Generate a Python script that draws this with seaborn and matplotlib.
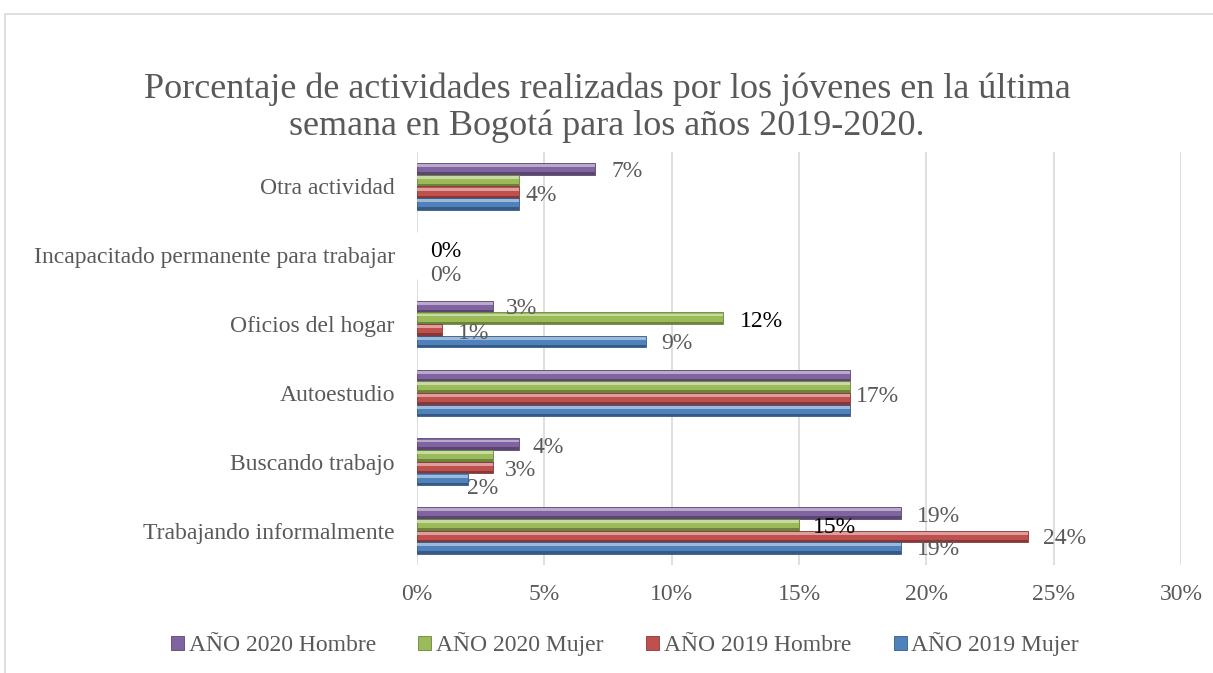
import numpy as np
import pandas as pd
import seaborn as sns
import matplotlib.pyplot as plt
import matplotlib.colors as mcolors
from matplotlib.patches import Rectangle

# categories, top to bottom as shown in the chart
categorias = ["Otra actividad", "Incapacitado permanente para trabajar", "Oficios del hogar",
              "Autoestudio", "Buscando trabajo", "Trabajando informalmente"]
series = ["AÑO 2020 Hombre", "AÑO 2020 Mujer", "AÑO 2019 Hombre", "AÑO 2019 Mujer"]
colores = ["#8064A2", "#9BBB59", "#C0504D", "#4F81BD"]

hombre_2020 = [7, 0, 3, 17, 4, 19]
mujer_2020 = [4, 0, 12, 17, 3, 15]
hombre_2019 = [4, 0, 1, 17, 3, 24]
mujer_2019 = [4, 0, 9, 17, 2, 19]

# data labels that Excel kept: (category, series, dx, dy, color)
etiquetas = [
    (0, 0, 1.24, -0.22, "#595959"), (0, 2, 0.87, 0.13, "#595959"),
    (1, 0, 1.14, -0.05, "black"), (1, 3, 1.14, 0.30, "#595959"),
    (2, 0, 1.12, -0.22, "#595959"), (2, 1, 1.51, -0.04, "black"),
    (2, 2, 1.24, 0.13, "#595959"), (2, 3, 1.21, 0.28, "#595959"),
    (3, 2, 1.10, 0.05, "#595959"),
    (4, 0, 1.14, -0.20, "#595959"), (4, 2, 1.08, 0.13, "#595959"), (4, 3, 0.59, 0.39, "#595959"),
    (5, 0, 1.46, -0.21, "#595959"), (5, 1, 1.41, -0.04, "black"),
    (5, 2, 1.44, 0.12, "#595959"), (5, 3, 1.46, 0.28, "#595959"),
]

valores = [hombre_2020, mujer_2020, hombre_2019, mujer_2019]
df = pd.DataFrame({
    "categoria": categorias * len(series),
    "serie": [s for s in series for _ in categorias],
    "valor": [v for vals in valores for v in vals],
})

sns.set_style("white")
plt.rcParams["font.family"] = ["Liberation Serif", "DejaVu Serif"]
gris = "#595959"
fs = 17

fig = plt.figure(figsize=(12.13, 6.73), dpi=100)
ax = fig.add_axes([417 / 1213, 1 - 565 / 673, (1181 - 417) / 1213, (565 - 152) / 673])

sns.barplot(data=df, y="categoria", x="valor", hue="serie", order=categorias, hue_order=series,
            palette=colores, orient="h", width=0.68, saturation=1, ax=ax, legend=False)

# bevel look of the Excel bars
for patch in list(ax.patches):
    w = patch.get_width()
    if w <= 0:
        continue
    x, y, h = patch.get_x(), patch.get_y(), patch.get_height()
    c = np.array(mcolors.to_rgb(patch.get_facecolor()))
    claro = 1 - (1 - c) * 0.55
    oscuro = c * 0.7
    patch.set_edgecolor(oscuro)
    patch.set_linewidth(0.6)
    ax.add_patch(Rectangle((x, y + h * 0.1), w, h * 0.25, facecolor=claro, edgecolor="none", zorder=patch.get_zorder() + 0.1))
    ax.add_patch(Rectangle((x, y + h * 0.78), w, h * 0.22, facecolor=oscuro, edgecolor="none", zorder=patch.get_zorder() + 0.1))

for ci, si, dx, dy, col in etiquetas:
    v = valores[si][ci]
    ax.text(v + dx, ci + dy, f"{v}%", ha="center", va="center", fontsize=fs, color=col)

ax.set_xlim(0, 30)
ax.set_xticks(range(0, 31, 5))
ax.set_xticklabels([f"{t}%" for t in range(0, 31, 5)], fontsize=fs, color=gris)
ax.tick_params(axis="y", labelsize=fs, labelcolor=gris, length=0, pad=16)
ax.tick_params(axis="x", length=0, pad=14)
ax.set_xlabel("")
ax.set_ylabel("")
ax.grid(axis="x", color="#D9D9D9", linewidth=1.2)
ax.set_axisbelow(True)
for sp in ax.spines.values():
    sp.set_visible(False)

fig.text(607 / 1213, 1 - 108 / 673, "Porcentaje de actividades realizadas por los jóvenes en la última\nsemana en Bogotá para los años 2019-2020.",
         ha="center", va="center", fontsize=26, color=gris, linespacing=1.12)

handles = [Rectangle((0, 0), 1, 1, facecolor=c, edgecolor=np.array(mcolors.to_rgb(c)) * 0.7, linewidth=0.6) for c in colores]
fig.legend(handles, series, loc="center", bbox_to_anchor=(625 / 1213, 1 - 644 / 673), ncol=4, frameon=False,
           fontsize=fs, labelcolor=gris, handlelength=0.55, handleheight=0.55, handletextpad=0.2, columnspacing=1.8)

fig.patches.append(Rectangle((5 / 1213, -0.1), 1.2, 1.1 - 14 / 673, transform=fig.transFigure,
                             fill=False, edgecolor="#D9D9D9", linewidth=1.2))

fig.savefig("out.png", dpi=100)
